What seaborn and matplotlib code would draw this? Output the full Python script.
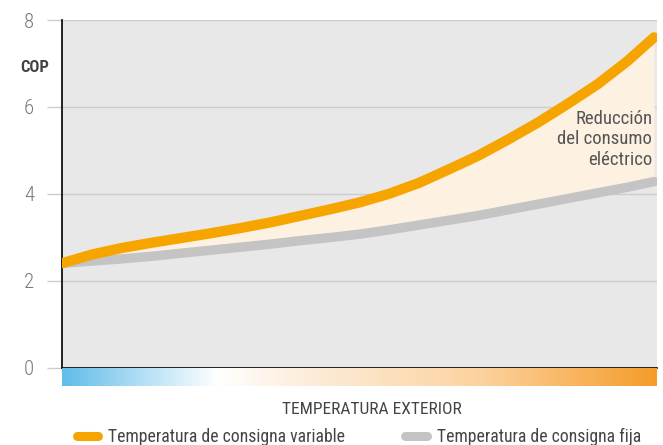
import matplotlib
matplotlib.use("Agg")
import matplotlib.pyplot as plt
import numpy as np
import pandas as pd
import seaborn as sns
from matplotlib.colors import LinearSegmentedColormap
from matplotlib.lines import Line2D


# temperatura exterior (escala relativa, sin valores numéricos en el eje)
TEMP = [0, 0.5, 1, 1.5, 2, 2.5, 3, 3.5, 4, 4.5, 5, 5.5, 6, 6.5, 7, 7.5, 8, 8.5, 9, 9.5, 9.95]
COP_VARIABLE = [2.40, 2.60, 2.75, 2.87, 2.98, 3.09, 3.21, 3.34, 3.49, 3.64, 3.80, 4.00,
                4.25, 4.56, 4.88, 5.25, 5.64, 6.07, 6.52, 7.05, 7.60]
COP_FIJA = [2.40, 2.45, 2.50, 2.56, 2.63, 2.70, 2.77, 2.84, 2.92, 2.99, 3.07, 3.17,
            3.28, 3.39, 3.50, 3.63, 3.76, 3.89, 4.02, 4.15, 4.28]
Y_TICKS = [0, 2, 4, 6, 8]

ORANGE = "#f6a500"
GREY_LINE = "#c4c4c4"
FILL = "#fdf1e2"
BG = "#e8e8e8"
FONTS = ["Roboto Condensed", "Archivo Narrow", "Liberation Sans Narrow", "DejaVu Sans"]


def main() -> None:
    sns.set_style("white")
    plt.rcParams["font.family"] = FONTS

    df = pd.DataFrame({"temp": TEMP, "variable": COP_VARIABLE, "fija": COP_FIJA})

    fig = plt.figure(figsize=(6.63, 4.45), dpi=100)
    ax = fig.add_axes([62 / 663, 1 - 367.5 / 445, 595 / 663, 347.5 / 445])
    ax.set_facecolor(BG)

    ax.fill_between(df["temp"], df["fija"], df["variable"], color=FILL, lw=0, zorder=1)
    sns.lineplot(data=df, x="temp", y="fija", color=GREY_LINE, lw=6.8, ax=ax,
                 solid_capstyle="round", zorder=3)
    sns.lineplot(data=df, x="temp", y="variable", color=ORANGE, lw=7.4, ax=ax,
                 solid_capstyle="round", zorder=4)

    ax.set_xlim(0, 10)
    ax.set_ylim(0, 8)
    ax.set_xticks([])
    ax.set_yticks(Y_TICKS)
    ax.set_xlabel("")
    ax.set_ylabel("")
    ax.grid(axis="y", color="#cccccc", lw=1)
    ax.set_axisbelow(True)
    ax.tick_params(axis="y", length=11, width=1, color="#cccccc", labelsize=15,
                   labelcolor="#7a7a7a", pad=9, left=True)
    for label in ax.get_yticklabels():
        label.set_fontweight("light")
    ax.yaxis.get_major_ticks()[0].tick1line.set_color("black")
    for side in ["top", "right"]:
        ax.spines[side].set_visible(False)
    for side in ["left", "bottom"]:
        ax.spines[side].set_color("black")
        ax.spines[side].set_linewidth(1.2)

    ax.text(9.92, 5.25, "Reducción\ndel consumo\neléctrico", ha="right", va="center",
            fontsize=13.5, color="#555555", linespacing=1.15, zorder=5)
    fig.text(35 / 663, 1 - 68 / 445, "COP", ha="center", va="center", fontsize=12,
             color="#444444", fontweight="bold")

    # barra de gradiente de temperatura
    cmap = LinearSegmentedColormap.from_list(
        "temp",
        [(0.0, "#62bdea"), (0.26, "#ffffff"), (0.4, "#fdeedd"), (0.7, "#fcd3a0"), (1.0, "#f59c2a")],
    )
    bar = fig.add_axes([62 / 663, 1 - 386 / 445, 595 / 663, 18 / 445])
    bar.imshow(np.linspace(0, 1, 512)[None, :], aspect="auto", cmap=cmap)
    bar.set_axis_off()

    fig.text(372 / 663, 1 - 409 / 445, "TEMPERATURA EXTERIOR", ha="center", va="center",
             fontsize=12.5, color="#444444")

    handles = [
        Line2D([], [], color=ORANGE, lw=6.5, solid_capstyle="round"),
        Line2D([], [], color=GREY_LINE, lw=6.5, solid_capstyle="round"),
    ]
    fig.legend(handles, ["Temperatura de consigna variable", "Temperatura de consigna fija"],
               loc="center", bbox_to_anchor=(359 / 663, 1 - 437 / 445), ncol=2, frameon=False,
               fontsize=12.7, handlelength=1.2, columnspacing=3.4, handletextpad=0.6,
               labelcolor="#444444")

    fig.savefig("out.png", dpi=100)
    plt.close(fig)


if __name__ == "__main__":
    main()
